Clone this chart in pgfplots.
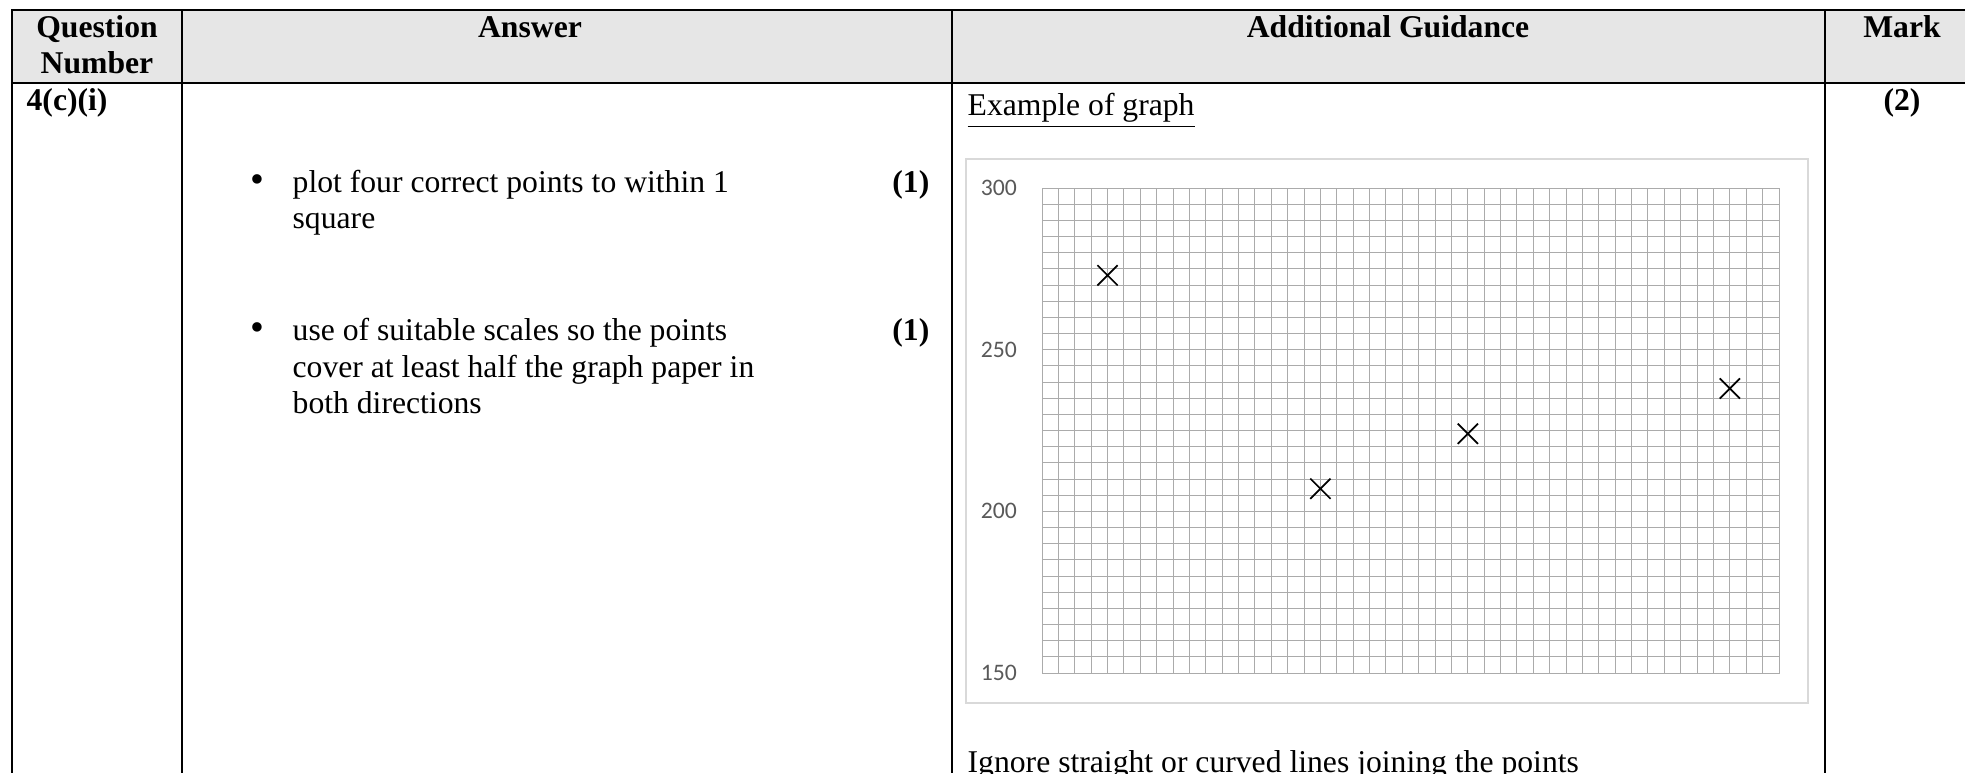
\documentclass[border=0pt]{standalone}
\usepackage{pgfplots}
\pgfplotsset{compat=1.18}
\usepackage{fontspec}
\setmainfont{Liberation Serif}
\newfontfamily\calibri{Carlito}
\definecolor{hdr}{HTML}{E6E6E6}
\definecolor{gridc}{HTML}{ABABAB}
\definecolor{boxc}{HTML}{D9D9D9}
\definecolor{lbl}{HTML}{595959}

\begin{document}
\fontsize{9.5}{10.95}\selectfont
\begin{tikzpicture}
% table, drawn in pixel units of the page (y downwards)
\begin{scope}[x=0.3pt,y=-0.3pt,yshift=231.9pt]
  \useasboundingbox (0,0) rectangle (1965,773);
  \fill[hdr] (12,10) rectangle (1965,83);
  \draw[line width=0.75pt] (1965,10) -- (12,10) -- (12,773);
  \draw[line width=0.75pt] (12,83) -- (1965,83);
  \foreach \x in {182,952,1825} \draw[line width=0.75pt] (\x,10) -- (\x,773);
  \begin{scope}[every node/.style={inner sep=0pt}]
    \node[anchor=base, font=\bfseries] at (97,37) {Question};
    \node[anchor=base, font=\bfseries] at (97,73) {Number};
    \node[anchor=base, font=\bfseries] at (530,37) {Answer};
    \node[anchor=base, font=\bfseries] at (1388,37) {Additional Guidance};
    \node[anchor=base, font=\bfseries] at (1902,37) {Mark};
    \node[anchor=base west, font=\bfseries] at (26,110) {4(c)(i)};
    \node[anchor=base, font=\bfseries] at (1902,110) {(2)};
    \node[anchor=base west] at (967,115) {\underline{Example of graph}};
    \node[anchor=base] at (257,192) {\scalebox{1.25}{\textbullet}};
    \node[anchor=base west] at (292,192) {plot four correct points to within 1};
    \node[anchor=base west] at (292,228) {square};
    \node[anchor=base east, font=\bfseries] at (930,192) {(1)};
    \node[anchor=base] at (257,340) {\scalebox{1.25}{\textbullet}};
    \node[anchor=base west] at (292,340) {use of suitable scales so the points};
    \node[anchor=base west] at (292,377) {cover at least half the graph paper in};
    \node[anchor=base west] at (292,413) {both directions};
    \node[anchor=base east, font=\bfseries] at (930,340) {(1)};
    \node[anchor=base west] at (967,772) {Ignore straight or curved lines joining the points};
  \end{scope}
  % chart area frame
  \draw[boxc, line width=0.4pt] (966,159) rectangle (1808,703);
\end{scope}

\begin{axis}[
    at={(312.6pt,30pt)}, anchor=south west,
    width=221.1pt, height=145.5pt, scale only axis,
    xmin=0, xmax=45, ymin=150, ymax=300,
    xtick={0,5,...,45}, minor x tick num=4, xticklabels={},
    ytick={150,200,250,300},
    minor ytick={155,160,...,195,205,210,...,245,255,260,...,295},
    grid=both,
    grid style={gridc, line width=0.3pt},
    minor grid style={gridc, line width=0.3pt},
    major tick length=0pt, minor tick length=0pt,
    axis line style={gridc, line width=0.3pt},
    /pgf/number format/assume math mode=true,
    yticklabel style={font=\calibri\fontsize{7.1}{8}\selectfont, text=lbl, xshift=-4.2pt},
  ]
  \addplot[only marks, mark=x, mark size=4.3pt, black, mark options={line width=0.5pt}]
    coordinates {(4,273) (17,207) (26,224) (42,238)};
\end{axis}
\end{tikzpicture}
\end{document}
